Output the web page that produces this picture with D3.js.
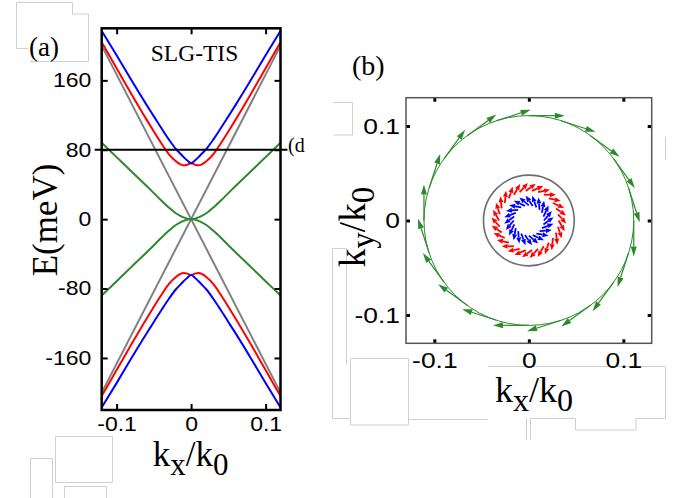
<!DOCTYPE html>
<html><head><meta charset="utf-8">
<script src="https://cdn.jsdelivr.net/npm/d3@7"></script>
<style>
body{margin:0;background:#fff}
svg{display:block}
</style></head><body>
<svg id="chart" width="695" height="498"></svg>
<script>
// ---- panel (a): band structure, k in units of k0, E in meV --------------------
const kA = [-0.12,-0.10,-0.08,-0.06,-0.05,-0.04,-0.03,-0.02,-0.015,-0.01,-0.005,0,0.005,0.01,0.015,0.02,0.03,0.04,0.05,0.06,0.08,0.10,0.12];
const blueUp   = [217,189,160,132,118.5,105,92,80.5,76,71.5,67.5,64.5,67.5,71.5,76,80.5,92,105,118.5,132,160,189,217];
const redUp    = [204,174,144,115,101,87.5,75,66.5,63.5,62,62.8,64.5,62.8,62,63.5,66.5,75,87.5,101,115,144,174,204];
const greenUp  = [88,71.5,55,38.5,30,21.5,13.5,6.5,4,2,0.5,0,0.5,2,4,6.5,13.5,21.5,30,38.5,55,71.5,88];
const blueDn   = [-217,-189,-160,-132,-118.5,-105,-92,-80.5,-76,-71.5,-67.5,-64.5,-67.5,-71.5,-76,-80.5,-92,-105,-118.5,-132,-160,-189,-217];
const redDn    = [-204,-174,-144,-115,-101,-87.5,-75,-66.5,-63.5,-62,-62.8,-64.5,-62.8,-62,-63.5,-66.5,-75,-87.5,-101,-115,-144,-174,-204];
const greenDn  = [-88,-71.5,-55,-38.5,-30,-21.5,-13.5,-6.5,-4,-2,-0.5,0,-0.5,-2,-4,-6.5,-13.5,-21.5,-30,-38.5,-55,-71.5,-88];
const kGray    = [-0.12,0,0.12];
const grayUp   = [200,0,200];
const grayDn   = [-200,0,-200];
const eFermi   = 80;
const ticksEA  = [-160,-80,0,80,160];
const ticksKA  = [-0.1,0,0.1];

// ---- panel (b): Fermi contours at 80 meV and spin arrows ----------------------
const contourNames = ['green','gray','red','blue'];
const contourK     = [0.111,0.048,0.0345,0.02];
const greenSpinAngles = [0,18,36,54,72,90,108,126,144,162,180,198,216,234,252,270,288,306,324,342];
const redSpinAngles   = [0,12,24,36,48,60,72,84,96,108,120,132,144,156,168,180,192,204,216,228,240,252,264,276,288,300,312,324,336,348];
const blueSpinAngles  = [0,15,30,45,60,75,90,105,120,135,150,165,180,195,210,225,240,255,270,285,300,315,330,345];
const ticksKB = [-0.1,0,0.1];

const colors = {green:'#2b8a2b', gray:'#808080', red:'#ff0000', blue:'#0000ff'};
const svg = d3.select('#chart');

// faint leftover boxes of the original page ------------------------------------
const decor = [
  'M16.5,48.5V2.5H72.5V14H88.5V61.5H30', 'M16.5,48.5H28',
  'M55.5,436.5H112.5V482.5H55.5Z', 'M30.5,498V458.5H52.5V498', 'M64.5,498V486.5H106.5V498',
  'M333,102.5H352.5V135H333',
  'M332.5,418.5V248.5H346.5V365', 'M332.5,418.5H350', 'M350.5,358.5H408.5V425H350.5Z',
  'M408.5,419.5H488', 'M488,366.5H665.5V418.5H636', 'M636,418.5V430H575.5V418.5H530.5',
  'M526.5,418V440', 'M530.5,418V440', 'M665.5,137V160'
];
svg.append('g').selectAll('path').data(decor).join('path')
  .attr('d', d => d).attr('fill', 'none').attr('stroke', '#d0d0d0').attr('stroke-width', 1);

// ---------------------------------------------------------------------------------
const xA = d3.scaleLinear().domain([-0.12, 0.12]).range([101.7, 280.5]);
const yA = d3.scaleLinear().domain([-220, 220]).range([410, 28.3]);
const gA = svg.append('g');

const smooth = d3.line().x(d => xA(d[0])).y(d => yA(d[1])).curve(d3.curveMonotoneX);
const straight = d3.line().x(d => xA(d[0])).y(d => yA(d[1]));
const bands = [
  [kGray, grayUp, 'gray'], [kGray, grayDn, 'gray'],
  [kA, greenUp, 'green'], [kA, greenDn, 'green'],
  [kA, redUp, 'red'], [kA, redDn, 'red'],
  [kA, blueUp, 'blue'], [kA, blueDn, 'blue']
];
gA.selectAll('.band').data(bands).join('path')
  .attr('class', 'band')
  .attr('d', d => (d[2] === 'gray' ? straight : smooth)(d[0].map((k, i) => [k, d[1][i]])))
  .attr('fill', 'none')
  .attr('stroke', d => colors[d[2]])
  .attr('stroke-width', 2);

// Fermi level line
gA.append('line')
  .attr('x1', xA.range()[0] - 7).attr('x2', xA.range()[1] + 7)
  .attr('y1', yA(eFermi)).attr('y2', yA(eFermi))
  .attr('stroke', '#000').attr('stroke-width', 2.2);
gA.append('text').attr('x', 288).attr('y', yA(eFermi) + 2)
  .attr('font-family', 'Liberation Serif').attr('font-size', 20).text('(d');

// axes panel (a)
const styleTicks = (sel, size, stretch) => {
  sel.select('.domain').remove();
  sel.selectAll('.tick line').attr('stroke', '#000').attr('stroke-width', 2);
  sel.selectAll('.tick text')
    .attr('font-family', 'Liberation Sans, Arial, sans-serif')
    .attr('font-size', size).attr('fill', '#000')
    .attr('transform', `scale(${stretch},1)`);
};
const fmt = d => String(d);
gA.append('g').attr('transform', `translate(${xA.range()[0]},0)`)
  .call(d3.axisLeft(yA).tickValues(ticksEA).tickFormat(fmt).tickSize(-6).tickPadding(9))
  .call(s => styleTicks(s, 20, 1.15));
gA.append('g').attr('transform', `translate(${xA.range()[1]},0)`)
  .call(d3.axisRight(yA).tickValues(ticksEA).tickFormat('').tickSize(-6))
  .call(s => styleTicks(s, 20, 1));
gA.append('g').attr('transform', `translate(0,${yA.range()[0]})`)
  .call(d3.axisBottom(xA).tickValues(ticksKA).tickFormat(fmt).tickSize(-6).tickPadding(7))
  .call(s => styleTicks(s, 20, 1.15));
gA.append('g').attr('transform', `translate(0,${yA.range()[1]})`)
  .call(d3.axisTop(xA).tickValues(ticksKA).tickFormat('').tickSize(-6))
  .call(s => styleTicks(s, 20, 1));
gA.append('rect')
  .attr('x', xA.range()[0]).attr('y', yA.range()[1])
  .attr('width', xA.range()[1] - xA.range()[0]).attr('height', yA.range()[0] - yA.range()[1])
  .attr('fill', 'none').attr('stroke', '#000').attr('stroke-width', 2.5);

const serif = 'Liberation Serif, Times New Roman, serif';
gA.append('text').attr('x', 29).attr('y', 56).attr('font-family', serif).attr('font-size', 27).text('(a)');
gA.append('text').attr('x', 194.5).attr('y', 61).attr('text-anchor', 'middle')
  .attr('font-family', serif).attr('font-size', 23.5).text('SLG-TIS');
gA.append('text').attr('transform', 'translate(57,220) rotate(-90)').attr('text-anchor', 'middle')
  .attr('font-family', serif).attr('font-size', 35).text('E(meV)');

const kLabel = (g, x, y, rot, size, sub, subSize) => {
  const t = g.append('text').attr('transform', `translate(${x},${y})` + (rot ? ' rotate(-90)' : ''))
    .attr('text-anchor', 'middle').attr('font-family', serif).attr('font-size', size);
  t.append('tspan').text('k');
  t.append('tspan').attr('font-size', subSize).attr('dy', 9).text(sub);
  t.append('tspan').attr('dy', -9).text('/k');
  t.append('tspan').attr('font-size', subSize).attr('dy', 9).text('0');
};
kLabel(gA, 190.7, 466, false, 35, 'x', 31);

// ---- panel (b) -------------------------------------------------------------------
const xB = d3.scaleLinear().domain([-0.13, 0.13]).range([406, 651.7]);
const yB = d3.scaleLinear().domain([-0.13, 0.13]).range([343.3, 97.7]);
const gB = svg.append('g');

gB.selectAll('.contour').data(contourNames.filter(n => n === 'green' || n === 'gray')).join('circle')
  .attr('class', 'contour')
  .attr('cx', xB(0)).attr('cy', yB(0))
  .attr('r', n => xB(contourK[contourNames.indexOf(n)]) - xB(0))
  .attr('fill', 'none')
  .attr('stroke', n => n === 'gray' ? '#6e6e6e' : colors.green)
  .attr('stroke-width', n => n === 'gray' ? 1.6 : 1);

// spin arrows: tail near the contour, tangent (sense -1 = clockwise), tilted outward
function drawArrows(angles, kTail, len, sense, tilt, color, headL, headW, shaftW) {
  const g = gB.append('g').attr('fill', color).attr('stroke', color);
  angles.forEach(a => {
    const t = a * Math.PI / 180;
    const phi = t + sense * (90 - tilt) * Math.PI / 180;
    const k0x = kTail * Math.cos(t), k0y = kTail * Math.sin(t);
    const k1x = k0x + len * Math.cos(phi), k1y = k0y + len * Math.sin(phi);
    const p0 = [xB(k0x), yB(k0y)], p1 = [xB(k1x), yB(k1y)];
    const dx = p1[0] - p0[0], dy = p1[1] - p0[1], d = Math.hypot(dx, dy);
    const ux = dx / d, uy = dy / d;
    const bx = p1[0] - ux * headL, by = p1[1] - uy * headL;
    g.append('line').attr('x1', p0[0]).attr('y1', p0[1]).attr('x2', bx).attr('y2', by)
      .attr('stroke-width', shaftW);
    g.append('path')
      .attr('d', `M${p1[0]},${p1[1]}L${bx - uy * headW / 2},${by + ux * headW / 2}L${bx + uy * headW / 2},${by - ux * headW / 2}Z`)
      .attr('stroke', 'none');
  });
}
drawArrows(greenSpinAngles, contourK[0], 0.038, -1, 0, colors.green, 10, 6, 1.2);
drawArrows(redSpinAngles, contourK[2] - 0.003, 0.013, -1, 30, colors.red, 6, 5, 1.8);
drawArrows(blueSpinAngles, contourK[3] - 0.004, 0.013, 1, 40, colors.blue, 6, 5, 1.8);

gB.append('g').attr('transform', `translate(${xB.range()[0]},0)`)
  .call(d3.axisLeft(yB).tickValues(ticksKB).tickFormat(fmt).tickSize(-4).tickPadding(5))
  .call(s => styleTicks(s, 22, 1.2));
gB.append('g').attr('transform', `translate(${xB.range()[1]},0)`)
  .call(d3.axisRight(yB).tickValues(ticksKB).tickFormat('').tickSize(-4))
  .call(s => styleTicks(s, 22, 1));
gB.append('g').attr('transform', `translate(0,${yB.range()[0]})`)
  .call(d3.axisBottom(xB).tickValues(ticksKB).tickFormat(fmt).tickSize(-4).tickPadding(9))
  .call(s => styleTicks(s, 22, 1.2));
gB.append('g').attr('transform', `translate(0,${yB.range()[1]})`)
  .call(d3.axisTop(xB).tickValues(ticksKB).tickFormat('').tickSize(-4))
  .call(s => styleTicks(s, 22, 1));
gB.selectAll('.tick line').attr('stroke-width', 3);
gB.append('rect')
  .attr('x', xB.range()[0]).attr('y', yB.range()[1])
  .attr('width', xB.range()[1] - xB.range()[0]).attr('height', yB.range()[0] - yB.range()[1])
  .attr('fill', 'none').attr('stroke', '#555').attr('stroke-width', 1.5);

gB.append('text').attr('x', 352).attr('y', 75).attr('font-family', serif).attr('font-size', 28).text('(b)');
kLabel(gB, 534, 401.7, false, 36, 'x', 32);
kLabel(gB, 365, 227, true, 37, 'y', 33);
</script>
</body></html>
